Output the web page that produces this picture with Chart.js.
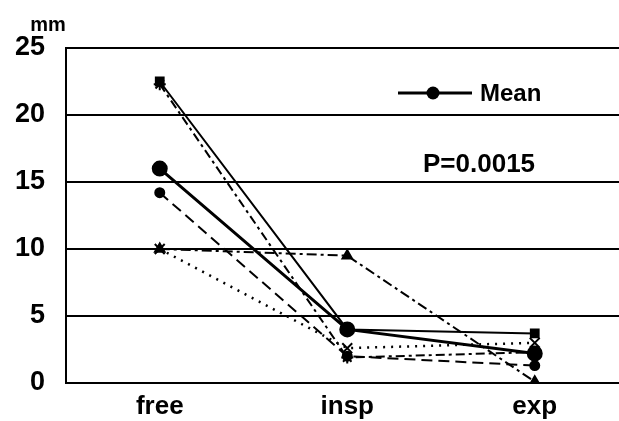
<!DOCTYPE html>
<html>
<head>
<meta charset="utf-8">
<script src="https://cdn.jsdelivr.net/npm/chart.js@4/dist/chart.umd.min.js"></script>
<style>
  html, body { margin: 0; padding: 0; background: #fff; overflow: hidden; }
  #wrap { width: 619px; height: 421px; overflow: hidden; }
</style>
</head>
<body>
<div id="wrap"><canvas id="chart" width="638" height="421"></canvas></div>
<script>
'use strict';

var categories = ['free', 'insp', 'exp'];
var yTicks = [0, 5, 10, 15, 20, 25];

// individual subjects
var subjectA = [22.5, 4.0, 3.7];
var subjectB = [22.3, 1.9, 2.3];
var subjectC = [14.2, 2.0, 1.3];
var subjectD = [10.0, 2.6, 3.0];
var subjectE = [10.0, 9.5, 0.1];
var meanValues = [16.0, 4.0, 2.2];

var pValue = 'P=0.0015';
var unitLabel = 'mm';
var legendLabel = 'Mean';

var FONT = '"Liberation Sans", Arial, sans-serif';

var subject = function (data, dash, style, radius, width) {
  return {
    label: '',
    data: data,
    borderColor: '#000',
    backgroundColor: '#000',
    borderWidth: width,
    borderDash: dash,
    pointStyle: style,
    pointRadius: radius,
    pointBorderWidth: 2,
    tension: 0
  };
};

var textPlugin = {
  id: 'chartText',
  afterDraw: function (chart) {
    var ctx = chart.ctx;
    ctx.save();
    ctx.fillStyle = '#000';
    ctx.strokeStyle = '#000';

    ctx.font = 'bold 20px ' + FONT;
    ctx.textAlign = 'center';
    ctx.textBaseline = 'middle';
    ctx.fillText(unitLabel, 48, 25);

    // legend entry for the mean line
    ctx.lineWidth = 3;
    ctx.beginPath();
    ctx.moveTo(398, 93);
    ctx.lineTo(472, 93);
    ctx.stroke();
    ctx.beginPath();
    ctx.arc(433, 93, 6.5, 0, Math.PI * 2);
    ctx.fill();

    ctx.font = 'bold 24px ' + FONT;
    ctx.textAlign = 'left';
    ctx.fillText(legendLabel, 480, 94);
    ctx.font = 'bold 26px ' + FONT;
    ctx.fillText(pValue, 423, 165);
    ctx.restore();
  }
};

new Chart(document.getElementById('chart'), {
  type: 'line',
  data: {
    labels: categories,
    datasets: [
      {
        label: legendLabel,
        data: meanValues,
        borderColor: '#000',
        backgroundColor: '#000',
        borderWidth: 3,
        pointStyle: 'circle',
        pointRadius: 6.5,
        tension: 0
      },
      subject(subjectA, [], 'rect', 5.5, 2),
      subject(subjectB, [9, 4, 3, 4], 'star', 6, 2),
      subject(subjectC, [11, 6], 'circle', 4.5, 2),
      subject(subjectD, [2, 6], 'crossRot', 7, 2.5),
      subject(subjectE, [10, 4, 3, 4], 'triangle', 5.5, 2)
    ]
  },
  options: {
    responsive: false,
    animation: false,
    layout: { padding: { top: 48, right: 0, left: 0, bottom: 0 } },
    plugins: {
      legend: { display: false },
      tooltip: { enabled: false }
    },
    scales: {
      x: {
        offset: true,
        grid: { display: false, drawTicks: false },
        border: { display: false },
        ticks: {
          color: '#000',
          padding: 8,
          font: { family: FONT, size: 26, weight: 'bold' }
        },
        afterFit: function (scale) { scale.height = 38; }
      },
      y: {
        min: 0,
        max: 25,
        afterBuildTicks: function (scale) {
          scale.ticks = yTicks.map(function (v) { return { value: v }; });
        },
        grid: { color: '#000', lineWidth: 2, drawTicks: false },
        border: { display: true, color: '#000', width: 2 },
        ticks: {
          color: '#000',
          padding: 21,
          font: { family: FONT, size: 27, weight: 'bold' }
        },
        afterFit: function (scale) { scale.width = 66; }
      }
    }
  },
  plugins: [textPlugin]
});
</script>
</body>
</html>
